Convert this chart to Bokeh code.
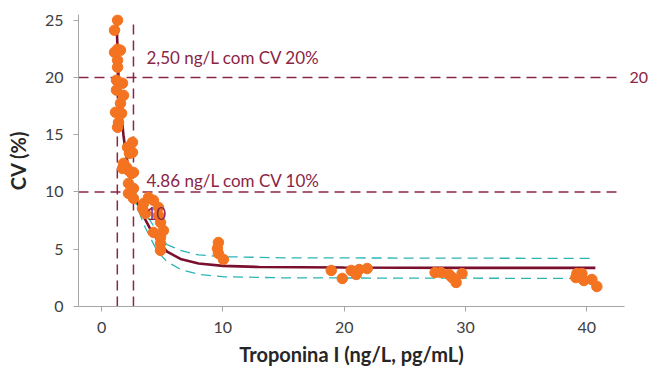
from bokeh.plotting import figure
from bokeh.models import Range1d, Label, FixedTicker, LinearAxis
from bokeh.embed import file_html
from bokeh.resources import INLINE

# Data
obs_x = [1.32, 1.07, 1.07, 1.32, 1.56, 1.32, 1.32, 1.23, 1.73, 1.23, 1.81, 1.56, 1.15, 1.65, 1.40, 1.32,
         2.55, 2.14, 2.30, 2.55, 1.81, 1.73, 2.06, 2.22, 2.47, 2.63,
         2.22, 2.22, 2.63, 2.63, 3.46, 3.87, 4.28, 3.37, 4.69, 3.62, 4.69, 4.86, 4.28, 5.10, 4.86, 4.86, 4.86,
         9.63, 9.55, 9.63, 10.04,
         18.93, 19.84, 20.58, 20.99, 21.23, 21.89,
         27.49, 27.98, 28.64, 28.89, 29.22, 29.71,
         39.18, 39.59, 39.09, 39.75, 40.41, 40.82]
obs_y = [25.0, 24.13, 22.2, 22.47, 22.38, 21.5, 20.9, 19.76, 19.5, 18.9, 18.44, 17.75, 16.96, 16.87, 16.08, 15.65,
         14.34, 13.9, 13.37, 13.46, 12.5, 12.06, 12.15, 11.89, 11.63, 11.71,
         10.75, 9.88, 10.31, 9.44, 9.0, 9.53, 9.27, 8.57, 8.65, 8.13, 7.95, 7.34, 6.47, 6.64, 6.03, 5.51, 4.9,
         5.59, 5.07, 4.63, 4.11,
         3.15, 2.45, 3.15, 2.8, 3.23, 3.32,
         2.97, 2.97, 2.8, 2.53, 2.1, 2.88,
         2.88, 2.88, 2.53, 2.27, 2.36, 1.75]

fit_x = [1.25, 1.4, 1.6, 1.8, 2.0, 2.3, 2.63, 3.0, 3.4, 4.0, 4.6, 5.4, 6.5, 8.0, 10.0, 13.0, 20.0, 30.0, 40.7]
fit_y = [24.5, 20.0, 17.2, 15.0, 13.4, 11.6, 10.0, 9.0, 8.0, 6.8, 5.8, 4.8, 4.15, 3.75, 3.55, 3.45, 3.4, 3.37, 3.37]

upper_x = [2.63, 3.0, 3.6, 4.6, 5.4, 6.5, 8.0, 10.0, 15.0, 40.7]
upper_y = [10.3, 9.5, 8.2, 6.5, 5.4, 4.9, 4.5, 4.35, 4.25, 4.2]
lower_x = [2.63, 3.0, 3.6, 4.6, 5.4, 6.5, 8.0, 10.0, 15.0, 40.7]
lower_y = [9.7, 8.5, 6.9, 4.8, 3.9, 3.25, 2.8, 2.6, 2.5, 2.45]

cutoff_x = [1.3, 2.63]
cutoff_y = [20, 10]

x_ticks = [0, 10, 20, 30, 40]
y_ticks = [0, 5, 10, 15, 20, 25]
right_ticks = [20]

FONT = "Lato"
MAROON = "#8a2545"
DARK = "#7a0f2e"
TEAL = "#2bb5b5"
ORANGE = "#f47321"

p = figure(width=651, height=369, output_backend="svg", toolbar_location=None,
           x_range=Range1d(-1.9, 43.1), y_range=Range1d(0, 25.5),
           min_border_left=78, min_border_right=26, min_border_top=14, min_border_bottom=63)
p.grid.visible = False
p.outline_line_color = None
p.background_fill_color = "white"

# reference lines
for yv in cutoff_y:
    p.line([-1.9, 42.5], [yv, yv], line_color=MAROON, line_width=1.5, line_dash="10 6")
for xv in cutoff_x:
    p.line([xv, xv], [0, 25], line_color=MAROON, line_width=1.5, line_dash="10 6")

p.line(upper_x, upper_y, line_color=TEAL, line_width=1.3, line_dash="10 6")
p.line(lower_x, lower_y, line_color=TEAL, line_width=1.3, line_dash="10 6")
p.line(fit_x, fit_y, line_color=DARK, line_width=2.6)

p.scatter(obs_x, obs_y, size=10.5, fill_color=ORANGE, line_color=ORANGE)

def lab(x, y, t, size="17px"):
    p.add_layout(Label(x=x, y=y, text=t, text_font=FONT, text_font_size=size,
                       text_color=MAROON, text_baseline="middle", text_align="left"))

lab(3.7, 21.77, "2,50 ng/L com CV 20%")
lab(3.7, 11.0, "4.86 ng/L com CV 10%")
lab(3.7, 8.13, "10")

for ax in (p.xaxis[0], p.yaxis[0]):
    ax.axis_line_color = "#a6a6a6"
    ax.major_tick_line_color = "#a6a6a6"
    ax.minor_tick_line_color = None
    ax.major_tick_in = 0
    ax.major_tick_out = 5
    ax.major_label_text_font = FONT
    ax.major_label_text_font_size = "16px"
    ax.major_label_text_color = "#404040"
    ax.axis_label_text_font = FONT
    ax.axis_label_text_font_size = "20px"
    ax.axis_label_text_font_style = "bold"
    ax.axis_label_text_color = "#262626"

p.xaxis.ticker = FixedTicker(ticks=x_ticks)
p.yaxis.ticker = FixedTicker(ticks=y_ticks)
p.xaxis.axis_label = "Troponina I (ng/L, pg/mL)"
p.yaxis.axis_label = "CV (%)"
p.xaxis.major_label_standoff = 10
p.xaxis.axis_label_standoff = 6
p.yaxis.major_label_standoff = 10
p.yaxis.axis_label_standoff = 12

# right-side label "20" for the CV 20% line
rax = LinearAxis(ticker=FixedTicker(ticks=right_ticks))
rax.axis_line_color = None
rax.major_tick_line_color = None
rax.minor_tick_line_color = None
rax.major_tick_in = 0
rax.major_tick_out = 0
rax.major_label_text_font = FONT
rax.major_label_text_font_size = "16px"
rax.major_label_text_color = MAROON
rax.major_label_standoff = 5
p.add_layout(rax, "right")

open("out.html", "w").write(file_html(p, INLINE))
